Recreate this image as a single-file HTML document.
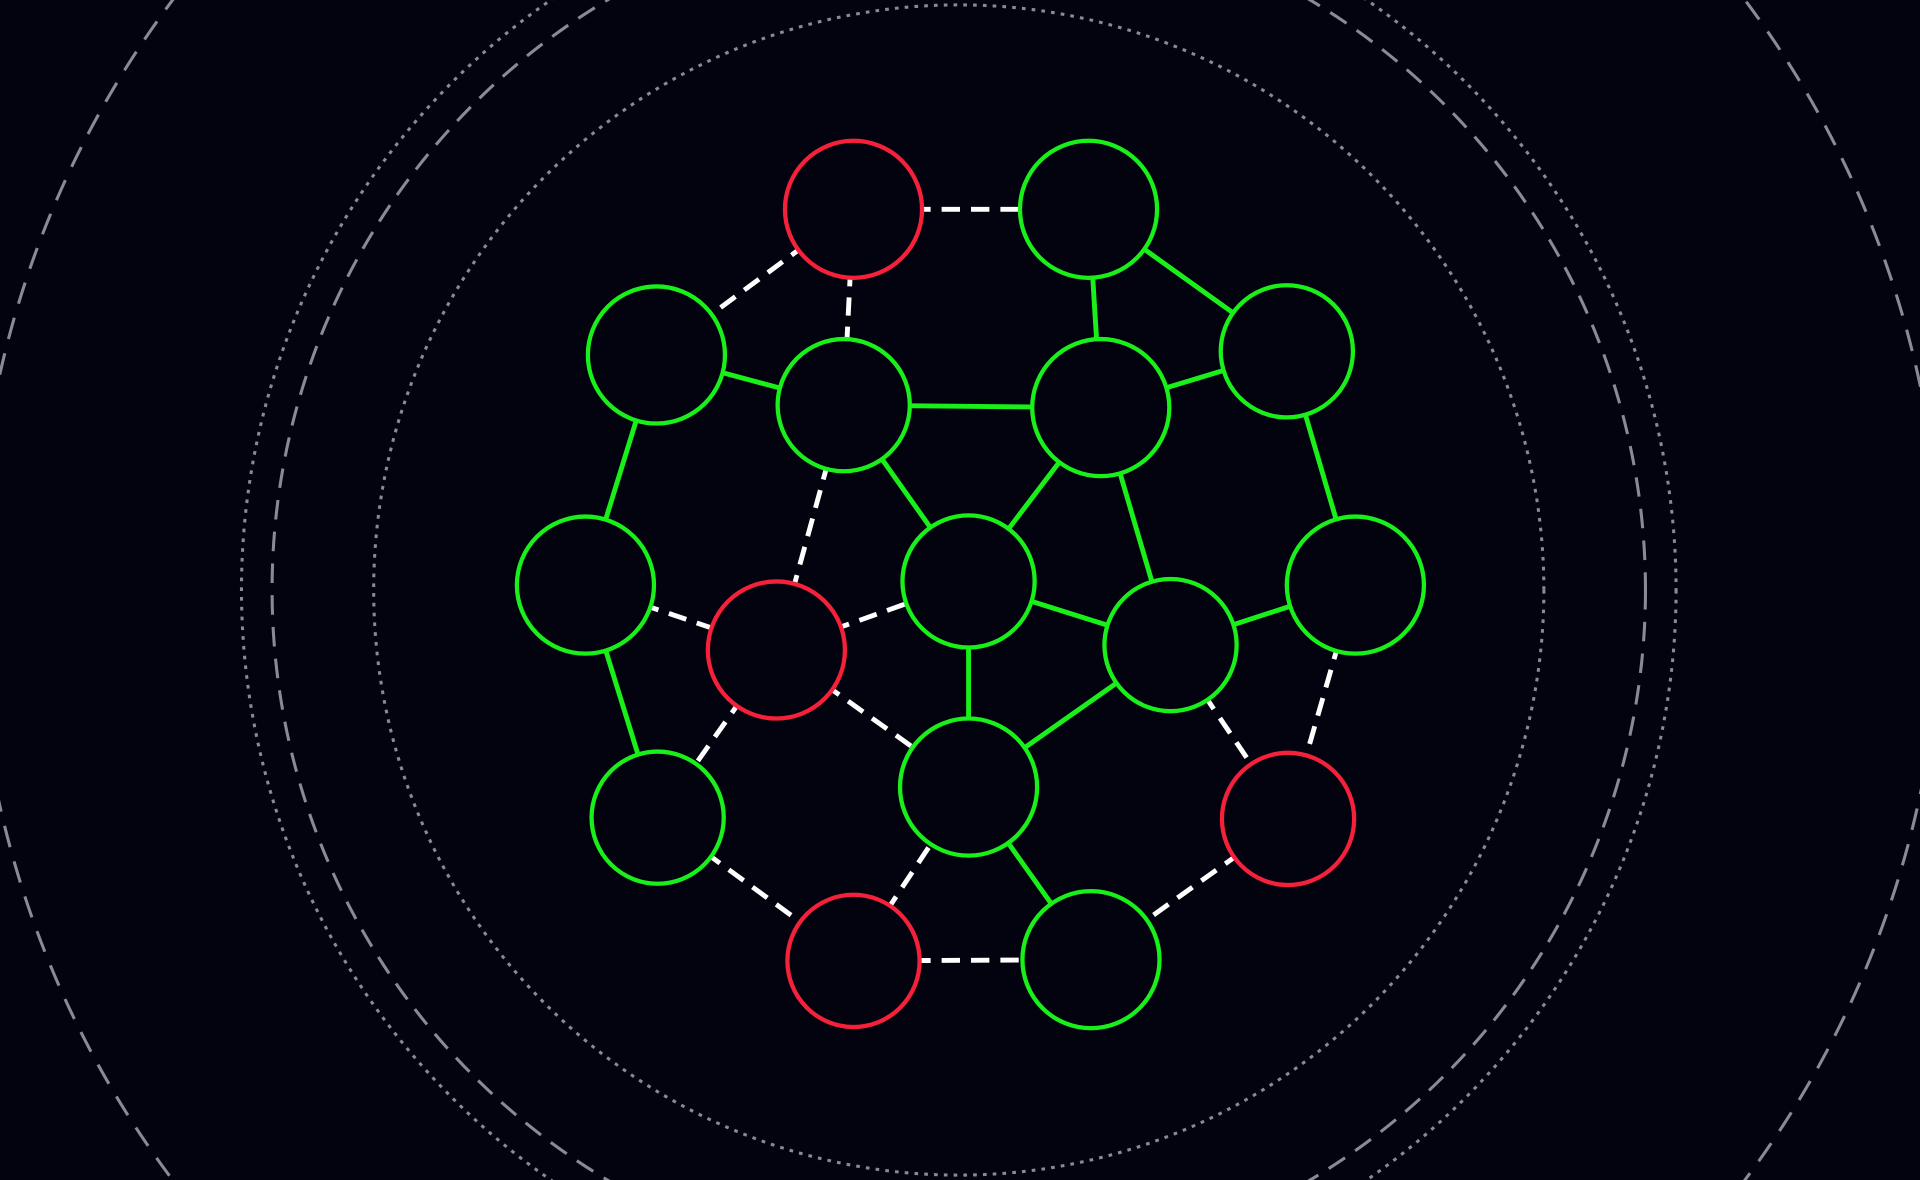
<!DOCTYPE html>
<html><head><meta charset="utf-8"><title>Network graph</title>
<style>html,body{margin:0;padding:0;background:#03020f;overflow:hidden;width:1920px;height:1180px}svg{display:block}</style></head>
<body>
<svg id="chart" width="1920" height="1180" viewBox="0 0 1568 964" xmlns="http://www.w3.org/2000/svg">
<rect width="1568" height="964" fill="#03020f"/>
<g id="rings">
<circle cx="783" cy="482" r="478" fill="none" stroke="#8a8a96" stroke-width="2.5" stroke-dasharray="3 5"/>
<circle cx="783" cy="482" r="561" fill="none" stroke="#8a8a96" stroke-width="2.5" stroke-dasharray="16 10"/>
<circle cx="783" cy="482" r="586" fill="none" stroke="#8a8a96" stroke-width="2.5" stroke-dasharray="3 5"/>
<circle cx="783" cy="482" r="803" fill="none" stroke="#8a8a96" stroke-width="2.5" stroke-dasharray="18 12"/>
</g>
<g id="edges"></g>
<g id="nodes"></g>
</svg>
<script>
const nodeIds = ["A","B","C","D","E","F","G","H","I","J","K","L","M","N","O","P"];
const nodeX = [697,889,536,689,899,1051,478,634,791,956,1107,537,791,1052,697,891];
const nodeY = [171,171,290,331,333,287,478,531,475,527,478,668,643,669,785,784];
const nodeR = [56,56,56,54,56,54,56,56,54,54,56,54,56,54,54,56];
const nodeState = ["red","green","green","green","green","green","green","red","green","green","green","green","green","red","red","green"];
const solidEdges = [["B","E"],["B","F"],["C","D"],["D","E"],["C","G"],["E","F"],["F","K"],["D","I"],["E","I"],["E","J"],["I","J"],["I","M"],["J","K"],["J","M"],["G","L"],["M","P"]];
const dashedEdges = [["A","B"],["A","C"],["A","D"],["D","H"],["G","H"],["H","I"],["H","L"],["H","M"],["K","N"],["J","N"],["N","P"],["L","O"],["O","M"],["O","P"]];
const NS="http://www.w3.org/2000/svg";
const eg=document.getElementById('edges'), ng=document.getElementById('nodes');
function idx(id){return nodeIds.indexOf(id);}
function addEdge(e,dashed){
  const a=idx(e[0]),b=idx(e[1]);
  const l=document.createElementNS(NS,'line');
  l.setAttribute('x1',nodeX[a]);l.setAttribute('y1',nodeY[a]);
  l.setAttribute('x2',nodeX[b]);l.setAttribute('y2',nodeY[b]);
  l.setAttribute('stroke',dashed?'#ffffff':'#19f019');
  l.setAttribute('stroke-width','4');
  if(dashed)l.setAttribute('stroke-dasharray','15 9');
  
  
  eg.appendChild(l);
}
solidEdges.forEach(e=>addEdge(e,false));
dashedEdges.forEach(e=>addEdge(e,true));
nodeIds.forEach((id,i)=>{
  const c=document.createElementNS(NS,'circle');
  c.setAttribute('cx',nodeX[i]);c.setAttribute('cy',nodeY[i]);c.setAttribute('r',nodeR[i]);
  c.setAttribute('fill','#03020f');
  c.setAttribute('stroke',nodeState[i]==='red'?'#f5213a':'#19f019');
  c.setAttribute('stroke-width','3.5');
  
  
  ng.appendChild(c);
});
</script>
</body></html>
